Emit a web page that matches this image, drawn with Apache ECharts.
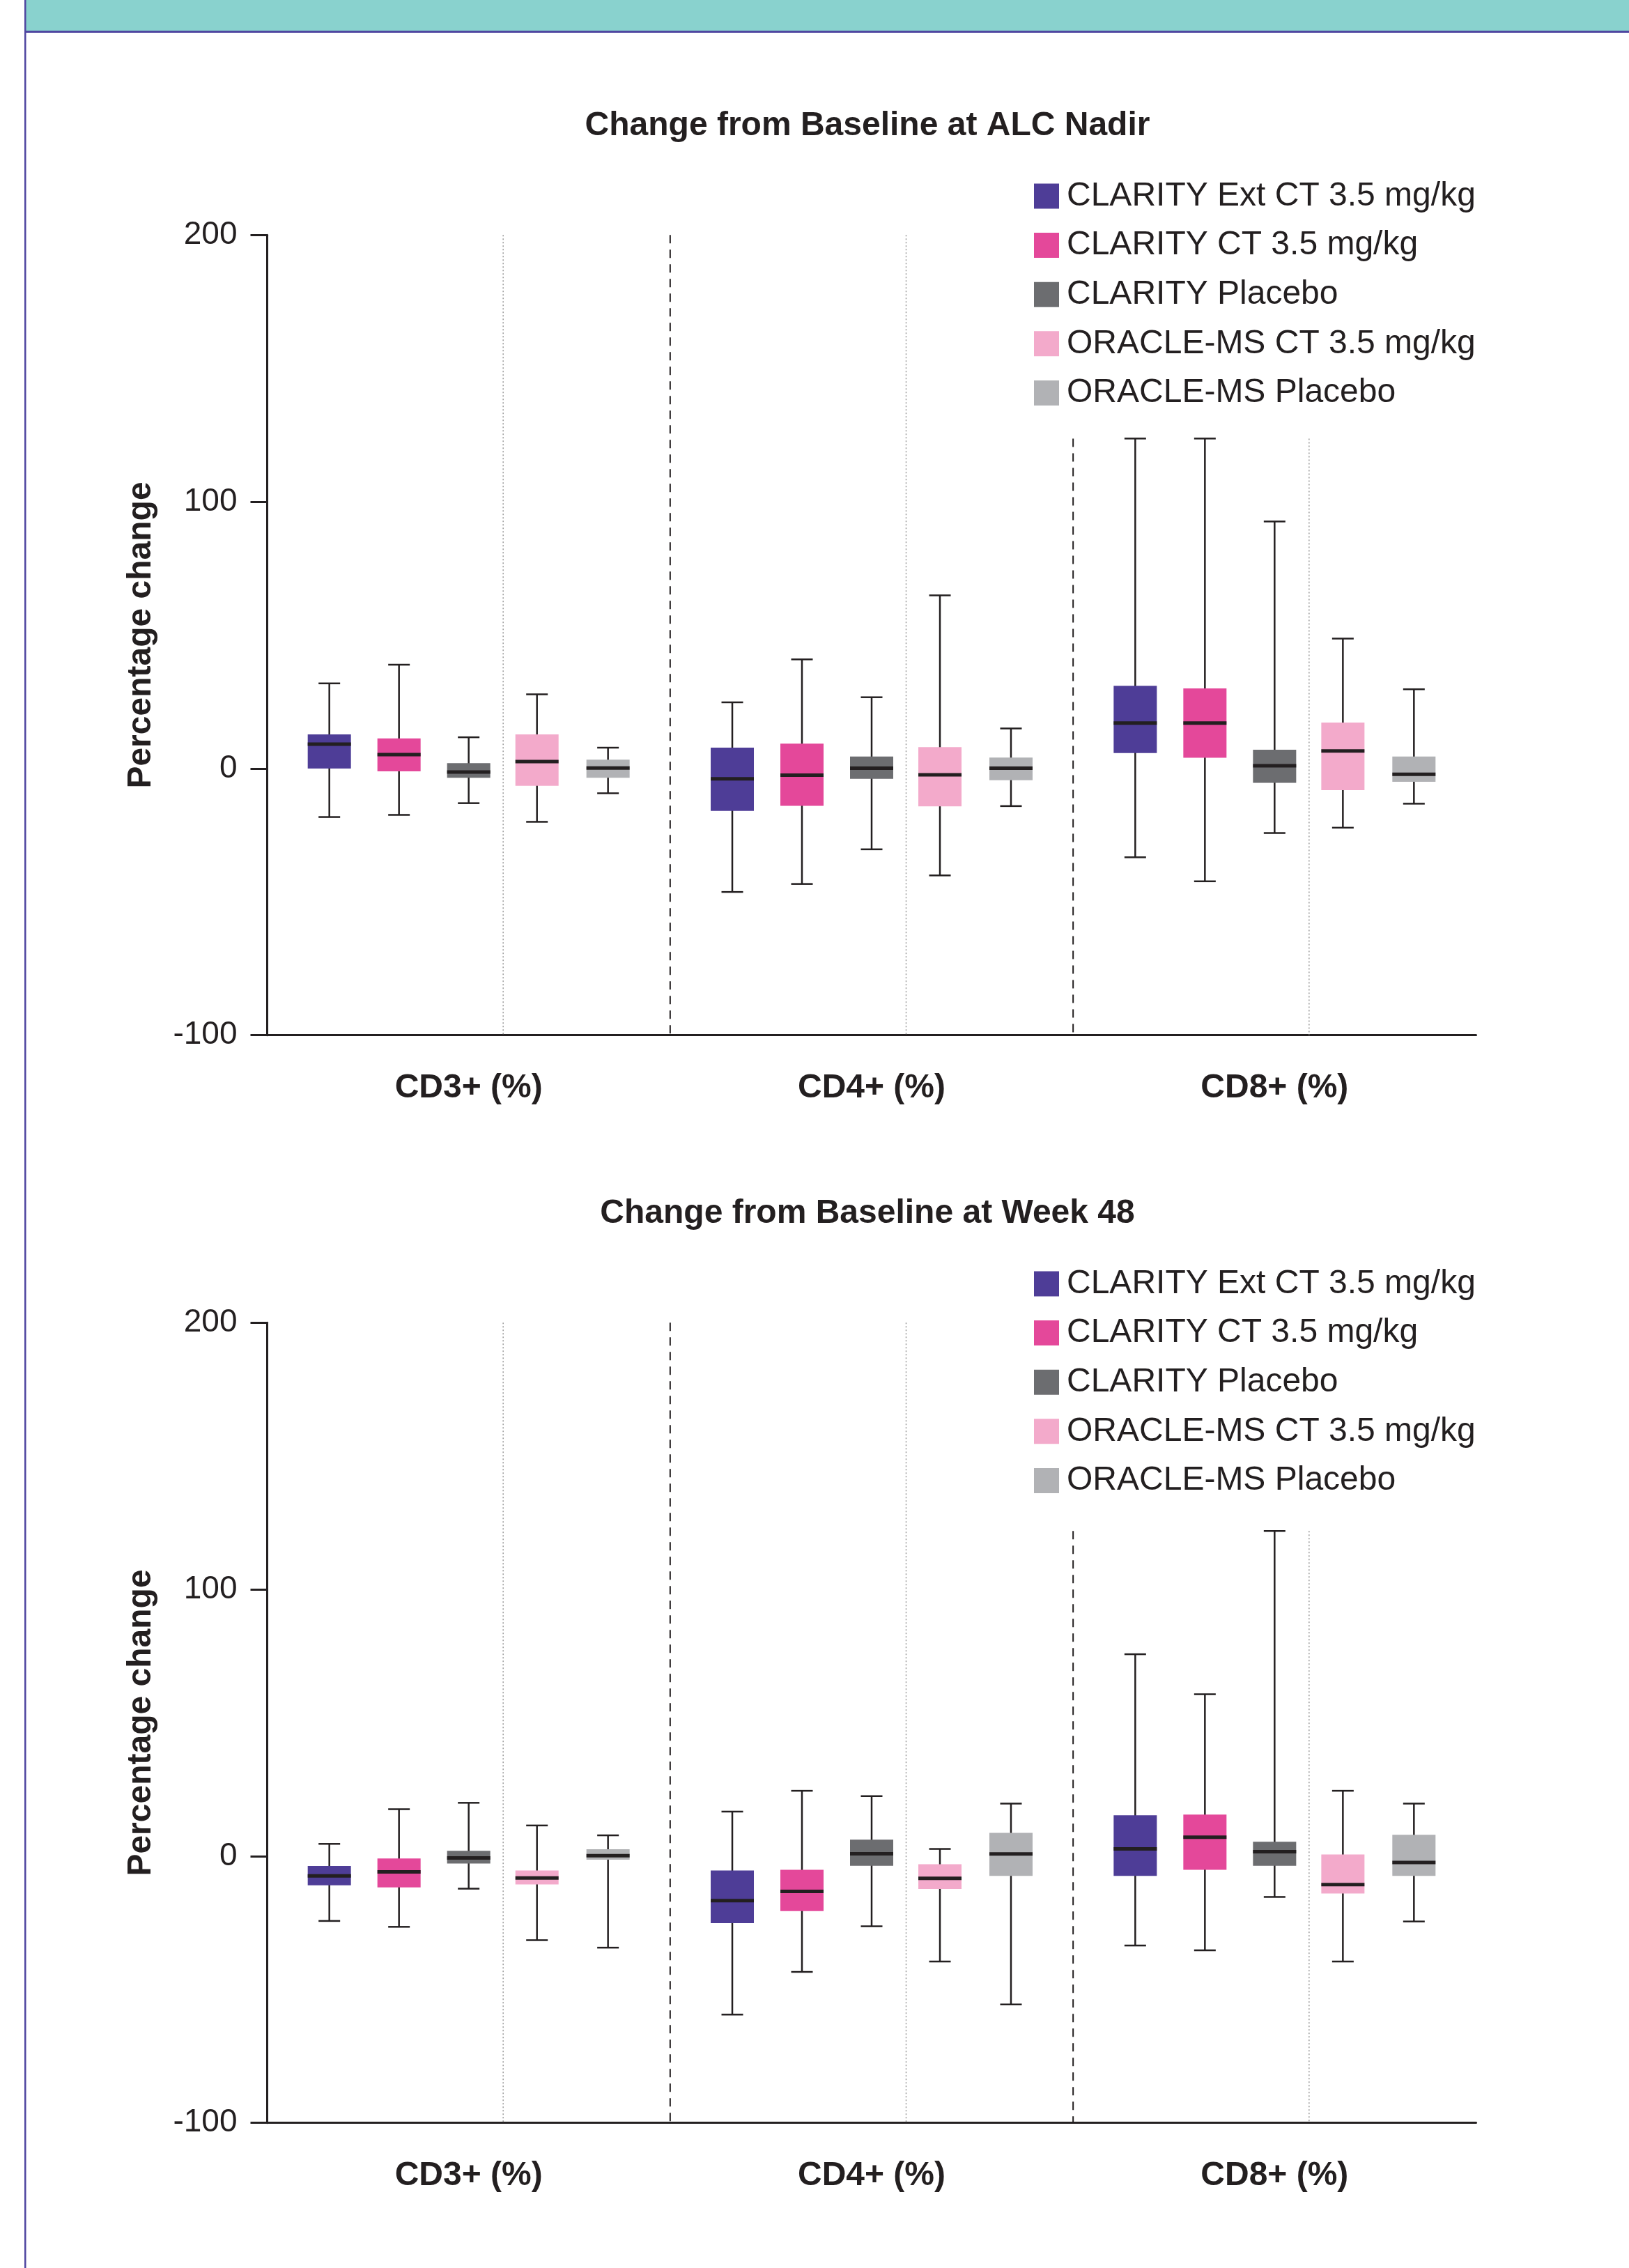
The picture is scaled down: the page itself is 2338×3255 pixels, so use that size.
<!DOCTYPE html>
<html>
<head>
<meta charset="utf-8">
<script src="https://cdn.jsdelivr.net/npm/echarts@6/dist/echarts.min.js"></script>
<style>
html,body{margin:0;padding:0;background:#ffffff;}
#c{width:2338px;height:3255px;}
</style>
</head>
<body>
<div id="c"></div>
<script>
// ---------------- DATA ----------------
const categories = ['CD3+ (%)', 'CD4+ (%)', 'CD8+ (%)'];
const seriesNames = ['CLARITY Ext CT 3.5 mg/kg', 'CLARITY CT 3.5 mg/kg', 'CLARITY Placebo', 'ORACLE-MS CT 3.5 mg/kg', 'ORACLE-MS Placebo'];
const yTicks = [-100, 0, 100, 200];
const titles = ['Change from Baseline at ALC Nadir', 'Change from Baseline at Week 48'];
const yAxisName = 'Percentage change';

// each row: [min, Q1, median, Q3, max] for CD3+, CD4+, CD8+
const nadirClarityExt   = [[-18.2, 0.0, 9.1, 12.8, 31.9], [-46.3, -15.9, -3.9, 7.8, 24.8], [-33.3, 5.8, 17.0, 31.0, 123.7]];
const nadirClarityCT    = [[-17.4, -1.1, 5.2, 11.3, 38.9], [-43.3, -14.0, -2.5, 9.3, 40.9], [-42.3, 4.0, 17.0, 30.0, 123.7]];
const nadirClarityPbo   = [[-13.0, -3.5, -1.3, 2.0, 11.7], [-30.3, -3.9, 0.1, 4.5, 26.7], [-24.2, -5.4, 1.0, 7.0, 92.6]];
const nadirOracleCT     = [[-20.0, -6.5, 2.6, 12.8, 27.8], [-40.1, -14.2, -2.4, 8.0, 64.9], [-22.2, -8.1, 6.6, 17.2, 48.7]];
const nadirOraclePbo    = [[-9.3, -3.5, 0.2, 3.3, 7.8], [-14.1, -4.4, 0.1, 4.1, 15.0], [-13.2, -5.0, -2.2, 4.5, 29.7]];

const wk48ClarityExt    = [[-24.3, -10.9, -7.4, -3.7, 4.6], [-59.4, -25.1, -16.7, -5.4, 16.7], [-33.5, -7.4, 2.7, 15.3, 75.7]];
const wk48ClarityCT     = [[-26.5, -11.7, -5.9, -0.9, 17.6], [-43.4, -20.6, -13.2, -5.1, 24.5], [-35.3, -5.1, 7.1, 15.6, 60.7]];
const wk48ClarityPbo    = [[-12.2, -2.8, -0.7, 2.0, 20.0], [-26.3, -3.6, 0.9, 6.2, 22.5], [-15.3, -3.6, 1.7, 5.4, 121.9]];
const wk48OracleCT      = [[-31.5, -10.6, -8.2, -5.4, 11.5], [-39.5, -12.3, -8.3, -3.0, 2.7], [-39.5, -14.0, -10.7, 0.6, 24.5]];
const wk48OraclePbo     = [[-34.3, -1.3, 0.2, 2.6, 7.8], [-55.6, -7.4, 0.8, 8.7, 19.7], [-24.5, -7.4, -2.4, 8.0, 19.7]];

const panels = [
  [nadirClarityExt, nadirClarityCT, nadirClarityPbo, nadirOracleCT, nadirOraclePbo],
  [wk48ClarityExt, wk48ClarityCT, wk48ClarityPbo, wk48OracleCT, wk48OraclePbo]
];

// ---------------- STYLE ----------------
const COLORS = ['#4E3D97', '#E4489A', '#6C6D70', '#F3AACB', '#B1B2B5'];
const INK = '#231F20';
const FONT = '"Liberation Sans", Arial, Helvetica, sans-serif';
const OFFSETS = [-0.3458, -0.1729, 0, 0.1695, 0.3458]; // fraction of band width
const BOX_W = 0.1072;      // fraction of band width
const DOT_OFF = 0.0856;    // dotted separator offset (fraction of band)
const Y_MIN = yTicks[0], Y_MAX = yTicks[yTicks.length - 1];
const PANEL_DY = 1561;

function boxRender(k) {
  return function (params, api) {
    const cat = api.value(0);
    const bw = api.size([1, 0])[0];
    const cx = api.coord([cat, 0])[0] + OFFSETS[k] * bw;
    const half = BOX_W * bw / 2;
    const capHalf = half / 2;
    const y = i => api.coord([cat, api.value(i)])[1];
    const yMin = y(1), yQ1 = y(2), yMed = y(3), yQ3 = y(4), yMax = y(5);
    const ls = { stroke: INK, lineWidth: 2.5 };
    return {
      type: 'group',
      children: [
        { type: 'line', shape: { x1: cx, y1: yMax, x2: cx, y2: yMin }, style: ls },
        { type: 'line', shape: { x1: cx - capHalf, y1: yMax, x2: cx + capHalf, y2: yMax }, style: ls },
        { type: 'line', shape: { x1: cx - capHalf, y1: yMin, x2: cx + capHalf, y2: yMin }, style: ls },
        { type: 'rect', shape: { x: cx - half, y: yQ3, width: 2 * half, height: yQ1 - yQ3 }, style: { fill: api.visual('color') } },
        { type: 'line', shape: { x1: cx - half, y1: yMed, x2: cx + half, y2: yMed }, style: { stroke: INK, lineWidth: 5 } }
      ]
    };
  };
}

function guideRender(params, api) {
  const cat = api.value(0);
  const bw = api.size([1, 0])[0];
  const cx = api.coord([cat, 0])[0];
  const yTop = api.coord([cat, api.value(1)])[1];
  const yBot = api.coord([cat, Y_MIN])[1];
  const children = [
    { type: 'line', shape: { x1: cx + DOT_OFF * bw, y1: yTop, x2: cx + DOT_OFF * bw, y2: yBot },
      style: { stroke: '#9A9A9A', lineWidth: 1.5, lineDash: [2, 3] } }
  ];
  if (cat > 0) {
    children.push({ type: 'line', shape: { x1: cx - bw / 2, y1: yTop, x2: cx - bw / 2, y2: yBot },
      style: { stroke: INK, lineWidth: 2, lineDash: [12, 9] } });
  }
  return { type: 'group', children };
}

const grids = [], xAxes = [], yAxes = [], series = [], legends = [], titleOpts = [];
panels.forEach((panel, p) => {
  const dy = p * PANEL_DY;
  grids.push({ left: 383.5, top: 337.3 + dy, width: 1735, height: 1148.4, containLabel: false });
  xAxes.push({
    type: 'category', gridIndex: p, data: categories, boundaryGap: true,
    axisLine: { onZero: false, lineStyle: { color: INK, width: 3 } },
    axisTick: { show: false },
    splitLine: { show: false },
    axisLabel: { margin: 52, fontSize: 48, fontWeight: 'bold', color: INK, fontFamily: FONT, lineHeight: 48 }
  });
  yAxes.push({
    type: 'value', gridIndex: p, min: Y_MIN, max: Y_MAX, interval: 100,
    name: yAxisName, nameLocation: 'middle', nameRotate: 90, nameGap: 157,
    nameTextStyle: { fontSize: 48, fontWeight: 'bold', color: INK, fontFamily: FONT },
    axisLine: { show: true, lineStyle: { color: INK, width: 3 } },
    axisTick: { show: true, inside: false, length: 24, lineStyle: { color: INK, width: 3 } },
    splitLine: { show: false },
    axisLabel: { margin: 43, fontSize: 46, color: INK, fontFamily: FONT }
  });
  // guide lines: last group's lines stop at its highest whisker (clear of legend)
  const guideData = categories.map((c, i) => [i, i < categories.length - 1 ? Y_MAX : Math.max(...panel.map(s => s[i][4]))]);
  series.push({
    type: 'custom', xAxisIndex: p, yAxisIndex: p, renderItem: guideRender,
    data: guideData, encode: { x: 0, y: 1 }, silent: true, z: 1
  });
  panel.forEach((arr, k) => {
    series.push({
      name: seriesNames[k], type: 'custom', xAxisIndex: p, yAxisIndex: p,
      renderItem: boxRender(k),
      itemStyle: { color: COLORS[k] },
      data: arr.map((d, i) => [i].concat(d)),
      encode: { x: 0, y: [1, 2, 3, 4, 5] }, z: 2
    });
  });
  legends.push({
    orient: 'vertical', left: 1484, top: 257.5 + dy, padding: 0,
    icon: 'rect', itemWidth: 36, itemHeight: 36, itemGap: 22.6,
    data: seriesNames, selectedMode: false,
    textStyle: { fontSize: 48, color: INK, fontFamily: FONT, lineHeight: 36, padding: [0, 0, 0, 6] }
  });
  titleOpts.push({
    text: titles[p], left: 1240, top: 152 + dy, textAlign: 'center',
    textStyle: { fontSize: 48, fontWeight: 'bold', color: INK, fontFamily: FONT, lineHeight: 48 }
  });
});

const chart = echarts.init(document.getElementById('c'), null, { renderer: 'canvas' });
chart.setOption({
  backgroundColor: '#ffffff',
  animation: false,
  textStyle: { fontFamily: FONT },
  title: titleOpts,
  legend: legends,
  grid: grids,
  xAxis: xAxes,
  yAxis: yAxes,
  series: series,
  graphic: [
    { type: 'rect', shape: { x: 36, y: 0, width: 2302, height: 44 }, style: { fill: '#89D2CE' }, silent: true },
    { type: 'rect', shape: { x: 35, y: 44, width: 2303, height: 3 }, style: { fill: '#4F46A0' }, silent: true },
    { type: 'rect', shape: { x: 35, y: 0, width: 2.5, height: 3255 }, style: { fill: '#4F46A0' }, silent: true }
  ]
});
</script>
</body>
</html>
